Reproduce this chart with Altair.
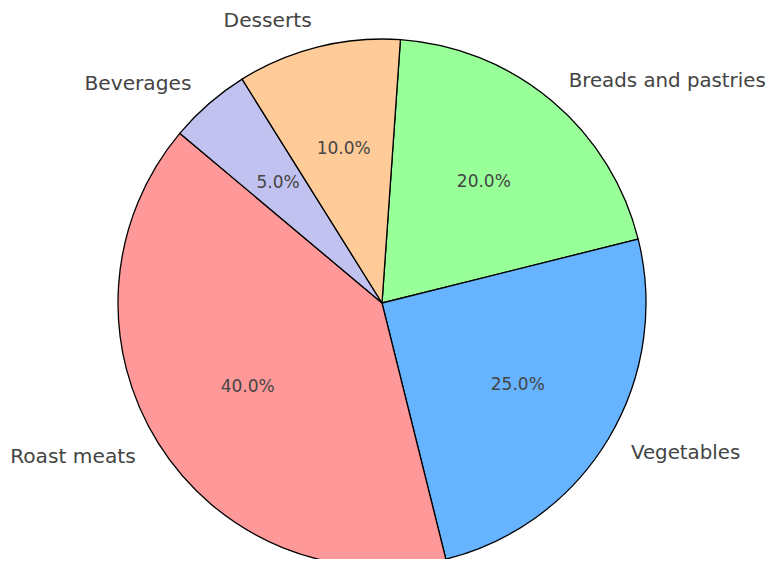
import math
import altair as alt
import pandas as pd

categories = ["Breads and pastries", "Vegetables", "Roast meats", "Beverages", "Desserts"]
shares = [20, 25, 40, 5, 10]
colors = ["#99ff99", "#66b3ff", "#ff9999", "#c2c2f0", "#ffcc99"]
order = [0, 1, 2, 3, 4]

df = pd.DataFrame({"category": categories, "share": shares, "order": order})

start = math.radians(4)
theta_range = [start, start + 2 * math.pi]
R = 264
cx, cy = 374, 295

base = alt.Chart(df).transform_window(
    cum="sum(share)", sort=[{"field": "order"}]
).transform_calculate(
    mid="datum.cum - datum.share/2",
).transform_calculate(
    side="sin(%f + 2*PI*datum.mid/100) < 0 ? 'left' : 'right'" % start,
    pct="format(datum.share, '.1f') + '%'",
).transform_calculate(
    lab_left="datum.side == 'left' ? datum.category : ''",
    lab_right="datum.side == 'right' ? datum.category : ''",
)

theta = alt.Theta("share:Q", stack=True, scale=alt.Scale(range=theta_range))
ordr = alt.Order("order:Q")

arcs = base.mark_arc(radius=R, stroke="black", strokeWidth=1.3).encode(
    theta=theta,
    order=ordr,
    color=alt.Color("category:N", scale=alt.Scale(domain=categories, range=colors), legend=None),
    x=alt.value(cx),
    y=alt.value(cy),
)

pct = base.mark_text(radius=R * 0.6, font="DejaVu Sans", fontSize=17, color="#444444",
                     align="center", baseline="middle").encode(
    theta=theta, order=ordr, text="pct:N", x=alt.value(cx), y=alt.value(cy)
)

lab_l = base.mark_text(radius=R * 1.1, font="DejaVu Sans", fontSize=20.2, color="#444444",
                       align="right", baseline="middle").encode(
    theta=theta, order=ordr, text="lab_left:N", x=alt.value(cx), y=alt.value(cy)
)

lab_r = base.mark_text(radius=R * 1.1, font="DejaVu Sans", fontSize=19.8, color="#444444",
                       align="left", baseline="middle").encode(
    theta=theta, order=ordr, text="lab_right:N", x=alt.value(cx), y=alt.value(cy)
)

chart = alt.layer(arcs, pct, lab_l, lab_r).properties(
    width=761, height=551, padding=0, autosize=alt.AutoSizeParams(type="none")
).configure_view(stroke=None)

chart.save("out.html", embed_options={"renderer": "svg", "actions": False})
